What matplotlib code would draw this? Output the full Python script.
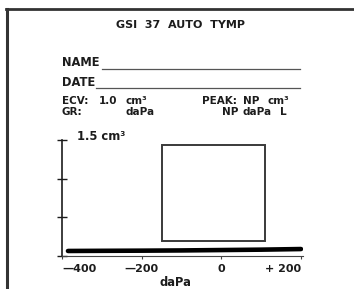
import matplotlib
matplotlib.use('Agg')
import matplotlib.pyplot as plt
from matplotlib.lines import Line2D
from matplotlib.patches import Rectangle

# tympanogram trace (flat, no peak)
pressure = [-385, -300, -200, -100, 0, 100, 200]
admittance = [0.065, 0.067, 0.069, 0.072, 0.077, 0.082, 0.09]

# normative region box
box_press = [-148, 110]
box_adm = [0.2, 1.43]

xticks = [-400, -200, 0, 200]
xtick_labels = ['\u2014400', '\u2014200', '0', '+ 200']
yticks = [0, 0.5, 1.0, 1.5]

W, H = 354, 289
ink = '#1c1c1c'
font = dict(family='DejaVu Sans', weight='bold', color=ink)
fs = 8.3


def fx(x):
    return x / W


def fy(y):
    return 1 - y / H


def put(x, y, s, ha='left', size=fs):
    fig.text(fx(x), fy(y), s, ha=ha, va='center', fontsize=size, **font)


fig = plt.figure(figsize=(W / 100, H / 100), dpi=100)

# printout frame (left and top edges)
fig.add_artist(Line2D([fx(6.5), fx(6.5)], [fy(9), 0], color='#333333', lw=2.2))
fig.add_artist(Line2D([fx(5.5), 1], [fy(9), fy(9)], color='#333333', lw=2.0))

put(180, 25.5, 'GSI  37  AUTO  TYMP', ha='center', size=8)

put(62, 63, 'NAME')
fig.add_artist(Line2D([fx(102), fx(300)], [fy(68.5), fy(68.5)], color='#555555', lw=0.9))
put(62, 83, 'DATE')
fig.add_artist(Line2D([fx(96), fx(300)], [fy(88.5), fy(88.5)], color='#555555', lw=0.9))

# measurement rows (printed tightly on the slip)
rs = 7.5
put(62, 100.5, 'ECV:', size=rs)
put(99, 100.5, '1.0', size=rs)
put(126, 100.5, 'cm\u00b3', size=rs)
put(62, 112, 'GR:', size=rs)
put(125, 112, 'daPa', size=rs)
put(202, 100.5, 'PEAK:', size=rs)
put(243, 100.5, 'NP', size=rs)
put(267, 100.5, 'cm\u00b3', size=rs)
put(222, 112, 'NP', size=rs)
put(243, 112, 'daPa', size=rs)
put(280, 112, 'L', size=rs)

ax = fig.add_axes([fx(62), fy(256), fx(303) - fx(62), fy(140) - fy(256)])
ax.set_xlim(-400, 205)
ax.set_ylim(0, 1.5)
ax.patch.set_alpha(0)

ax.add_patch(Rectangle((box_press[0], box_adm[0]), box_press[1] - box_press[0],
                       box_adm[1] - box_adm[0], fill=False, ec='#3a3a3a', lw=1.4))
ax.plot(pressure, admittance, color='black', lw=3.3, solid_capstyle='round')

for s in ['top', 'right']:
    ax.spines[s].set_visible(False)
ax.spines['left'].set_color(ink)
ax.spines['left'].set_linewidth(1.2)
ax.spines['bottom'].set_color('#444444')
ax.spines['bottom'].set_linewidth(0.8)

ax.set_yticks(yticks)
ax.set_yticklabels([])
ax.tick_params(axis='y', direction='inout', length=7, width=1.0, color=ink)
ax.set_xticks(xticks)
ax.set_xticklabels(xtick_labels, fontsize=8, fontfamily='DejaVu Sans', fontweight='bold', color=ink)
ax.tick_params(axis='x', direction='out', length=2.5, width=0.8, color='#444444', pad=3)
labels = ax.get_xticklabels()
labels[0].set_ha('left')
labels[-1].set_ha('right')

ax.annotate('1.5 cm\u00b3', xy=(-400, 1.5), xytext=(15, 4), textcoords='offset pixels',
            ha='left', va='center', fontsize=fs, **font)
ax.text((175 - 62) / 241, -0.23, 'daPa', transform=ax.transAxes,
        ha='center', va='center', fontsize=fs, **font)

fig.savefig('out.png', dpi=100, facecolor='white')
